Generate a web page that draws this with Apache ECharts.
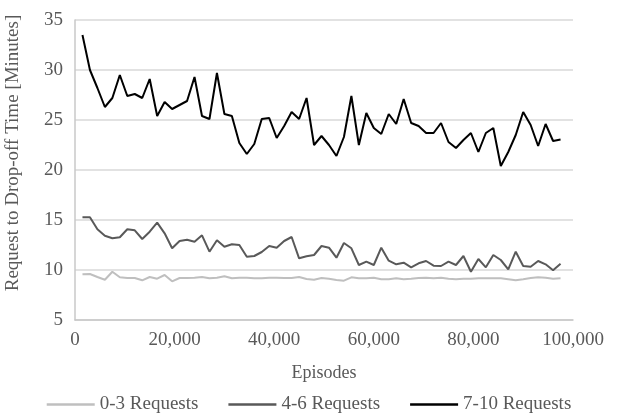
<!DOCTYPE html>
<html>
<head>
<meta charset="utf-8">
<script src="https://cdn.jsdelivr.net/npm/echarts@6/dist/echarts.min.js"></script>
<style>
html,body{margin:0;padding:0;background:#fff;}
#c{width:618px;height:413px;}
</style>
</head>
<body>
<div id="c"></div>
<script>
const episodes = [1500,3000,4500,6000,7500,9000,10500,12000,13500,15000,16500,18000,19500,21000,22500,24000,25500,27000,28500,30000,31500,33000,34500,36000,37500,39000,40500,42000,43500,45000,46500,48000,49500,51000,52500,54000,55500,57000,58500,60000,61500,63000,64500,66000,67500,69000,70500,72000,73500,75000,76500,78000,79500,81000,82500,84000,85500,87000,88500,90000,91500,93000,94500,96000,97500];

const req0to3 = [9.57,9.6,9.3,9.03,9.83,9.27,9.2,9.2,8.97,9.3,9.13,9.5,8.87,9.2,9.2,9.23,9.3,9.17,9.23,9.37,9.17,9.23,9.23,9.17,9.17,9.23,9.23,9.2,9.2,9.3,9.1,9.03,9.2,9.13,9.0,8.93,9.27,9.17,9.17,9.23,9.07,9.07,9.17,9.07,9.13,9.2,9.23,9.17,9.23,9.13,9.07,9.13,9.13,9.17,9.17,9.17,9.17,9.07,8.97,9.07,9.2,9.27,9.23,9.13,9.17];

const req4to6 = [15.27,15.27,14.07,13.43,13.17,13.27,14.07,13.97,13.1,13.83,14.73,13.67,12.17,12.9,13.03,12.83,13.47,11.83,12.97,12.33,12.57,12.5,11.33,11.4,11.8,12.4,12.23,12.9,13.3,11.17,11.37,11.5,12.4,12.23,11.23,12.7,12.17,10.5,10.83,10.5,12.23,10.93,10.57,10.73,10.27,10.67,10.9,10.43,10.4,10.83,10.5,11.4,9.83,11.1,10.27,11.5,11.0,10.07,11.83,10.4,10.33,10.9,10.57,9.97,10.63];

const req7to10 = [33.5,30.0,28.2,26.3,27.2,29.5,27.4,27.6,27.2,29.1,25.4,26.8,26.1,26.5,26.9,29.3,25.4,25.1,29.7,25.6,25.4,22.7,21.6,22.6,25.1,25.2,23.2,24.4,25.8,25.1,27.2,22.5,23.4,22.5,21.4,23.3,27.4,22.5,25.7,24.2,23.6,25.6,24.6,27.1,24.7,24.4,23.7,23.7,24.7,22.8,22.2,23.0,23.7,21.8,23.7,24.2,20.4,21.8,23.5,25.8,24.5,22.4,24.6,22.9,23.05];

const seriesNames = ['0-3 Requests','4-6 Requests','7-10 Requests'];
const seriesColors = ['#BFBFBF','#595959','#000000'];
const yTicks = [5,10,15,20,25,30,35];
const xTicks = [0,20000,40000,60000,80000,100000];

const font = 'Liberation Serif, Times New Roman, serif';
const pair = arr => arr.map((v,i)=>[episodes[i], v]);
const allData = [req0to3, req4to6, req7to10];

const chart = echarts.init(document.getElementById('c'), null, {renderer:'canvas'});
chart.setOption({
  animation:false,
  backgroundColor:'#fff',
  grid:{left:75,right:45,top:20,bottom:93,containLabel:false,outerBoundsMode:'none'},
  xAxis:{
    type:'value', min:xTicks[0], max:xTicks[xTicks.length-1], interval:20000,
    name:'Episodes', nameLocation:'middle', nameGap:44,
    nameTextStyle:{fontFamily:font,fontSize:18,color:'#595959'},
    axisLine:{show:true,lineStyle:{color:'#C8C8C8',width:1.5}},
    axisTick:{show:false},
    splitLine:{show:false},
    axisLabel:{fontFamily:font,fontSize:19,color:'#595959',margin:11,
      formatter:v=>v.toLocaleString('en-US')}
  },
  yAxis:{
    type:'value', min:yTicks[0], max:yTicks[yTicks.length-1], interval:5,
    name:'Request to Drop-off Time [Minutes]', nameLocation:'middle', nameGap:52,
    nameRotate:90,
    nameTextStyle:{fontFamily:font,fontSize:19,color:'#595959',padding:[0,0,0,34]},
    axisLine:{show:true,lineStyle:{color:'#C8C8C8',width:1.5}},
    axisTick:{show:false},
    splitLine:{show:true,lineStyle:{color:'#D9D9D9',width:1.5}},
    axisLabel:{fontFamily:font,fontSize:19,color:'#595959',margin:12}
  },
  legend:{
    top:390, left:'center',
    icon:'rect', itemWidth:48, itemHeight:2.5, itemGap:30,
    textStyle:{fontFamily:font,fontSize:19,color:'#595959'},
    data:seriesNames
  },
  series: seriesNames.map((n,i)=>({
    name:n, type:'line', data:pair(allData[i]),
    symbol:'none', smooth:false,
    lineStyle:{color:seriesColors[i],width:2},
    itemStyle:{color:seriesColors[i]}
  }))
});
</script>
</body>
</html>
